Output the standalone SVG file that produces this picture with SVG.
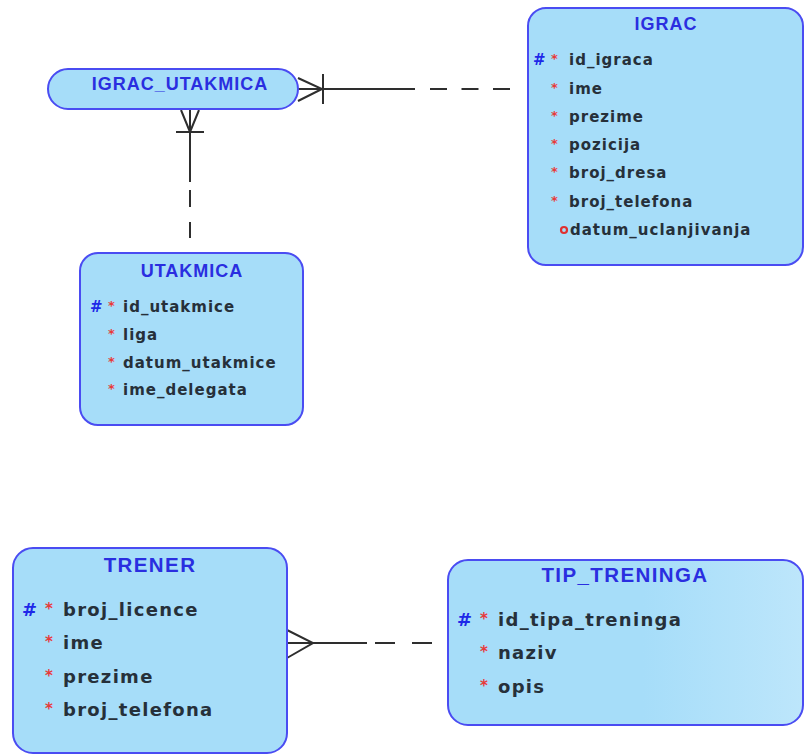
<svg xmlns="http://www.w3.org/2000/svg" width="804" height="755" viewBox="0 0 804 755">
<defs>
<linearGradient id="tipGrad" x1="0" y1="0" x2="1" y2="0">
<stop offset="0.55" stop-color="#a6ddf9"/>
<stop offset="1" stop-color="#bde6fb"/>
</linearGradient>
<style>
.box{fill:#a6ddf9;stroke:#4a4cf2;stroke-width:2}
.title{font-family:"Liberation Sans",Arial,sans-serif;font-weight:bold;fill:#2a2ee0;text-anchor:middle;letter-spacing:1px}
.t1{font-size:18px}
.t2{font-size:20.5px;letter-spacing:1.4px}
.attr{font-family:"DejaVu Sans",Verdana,sans-serif;font-weight:bold;fill:#26303a;letter-spacing:1px}
.a1{font-size:15px}
.a2{font-size:18px;letter-spacing:1.3px}
.pk{font-family:"DejaVu Sans",sans-serif;font-weight:bold;fill:#1e28e8}
.req{font-family:"DejaVu Sans",sans-serif;font-weight:bold;fill:#e83a3a}
.opt{fill:none;stroke:#e03030;stroke-width:2.2}
.ln{stroke:#2e2e2e;stroke-width:2;fill:none}
.dash{stroke:#2e2e2e;stroke-width:2;fill:none}
</style>
</defs>

<g id="connectors">
<!-- IGRAC_UTAKMICA to IGRAC -->
<path class="ln" d="M298,78 L322,89 L298,101 M298,89 L415,89 M323,74 L323,104"/>
<path class="dash" d="M430,89 L512,89" stroke-dasharray="17 14.5"/>
<!-- IGRAC_UTAKMICA to UTAKMICA -->
<path class="ln" d="M181,110 L190,132 L199,110 M190,110 L190,182 M176,132 L204,132"/>
<path class="dash" d="M190,190 L190,238" stroke-dasharray="17 15"/>
<!-- TRENER to TIP_TRENINGA -->
<path class="ln" d="M287,630 L313,643 L287,658 M287,643 L367,643"/>
<path class="dash" d="M375,643 L432,643" stroke-dasharray="20 17"/>
</g>

<g id="igrac_utakmica">
<rect class="box" x="48" y="69" width="250" height="40" rx="20" ry="20"/>
<text class="title t1" x="180" y="90">IGRAC_UTAKMICA</text>
</g>

<g id="igrac">
<rect class="box" x="528" y="8" width="275" height="257" rx="18" ry="18"/>
<text class="title t1" x="666" y="30">IGRAC</text>
<text class="pk a1" x="533" y="65">#</text>
<text class="req" x="551" y="63" font-size="13">*</text>
<text class="attr a1" x="569" y="65">id_igraca</text>
<text class="req" x="551" y="92" font-size="13">*</text>
<text class="attr a1" x="569" y="94">ime</text>
<text class="req" x="551" y="120" font-size="13">*</text>
<text class="attr a1" x="569" y="122">prezime</text>
<text class="req" x="551" y="148" font-size="13">*</text>
<text class="attr a1" x="569" y="150">pozicija</text>
<text class="req" x="551" y="176" font-size="13">*</text>
<text class="attr a1" x="569" y="178">broj_dresa</text>
<text class="req" x="551" y="205" font-size="13">*</text>
<text class="attr a1" x="569" y="207">broj_telefona</text>
<circle class="opt" cx="564" cy="230" r="3"/>
<text class="attr a1" x="570" y="235">datum_uclanjivanja</text>
</g>

<g id="utakmica">
<rect class="box" x="80" y="253" width="223" height="172" rx="18" ry="18"/>
<text class="title t1" x="192" y="277">UTAKMICA</text>
<text class="pk a1" x="90" y="312">#</text>
<text class="req" x="108" y="310" font-size="13">*</text>
<text class="attr a1" x="123" y="312">id_utakmice</text>
<text class="req" x="108" y="338" font-size="13">*</text>
<text class="attr a1" x="123" y="340">liga</text>
<text class="req" x="108" y="366" font-size="13">*</text>
<text class="attr a1" x="123" y="368">datum_utakmice</text>
<text class="req" x="108" y="393" font-size="13">*</text>
<text class="attr a1" x="123" y="395">ime_delegata</text>
</g>

<g id="trener">
<rect class="box" x="13" y="548" width="274" height="205" rx="20" ry="20"/>
<text class="title t2" x="150" y="572">TRENER</text>
<text class="pk a2" x="22" y="616">#</text>
<text class="req" x="45" y="614" font-size="15">*</text>
<text class="attr a2" x="63" y="616">broj_licence</text>
<text class="req" x="45" y="647" font-size="15">*</text>
<text class="attr a2" x="63" y="649">ime</text>
<text class="req" x="45" y="681" font-size="15">*</text>
<text class="attr a2" x="63" y="683">prezime</text>
<text class="req" x="45" y="714" font-size="15">*</text>
<text class="attr a2" x="63" y="716">broj_telefona</text>
</g>

<g id="tip_treninga">
<rect class="box" x="448" y="560" width="355" height="165" rx="20" ry="20" style="fill:url(#tipGrad)"/>
<text class="title t2" x="625" y="582">TIP_TRENINGA</text>
<text class="pk a2" x="457" y="626">#</text>
<text class="req" x="480" y="624" font-size="15">*</text>
<text class="attr a2" x="498" y="626">id_tipa_treninga</text>
<text class="req" x="480" y="657" font-size="15">*</text>
<text class="attr a2" x="498" y="659">naziv</text>
<text class="req" x="480" y="691" font-size="15">*</text>
<text class="attr a2" x="498" y="693">opis</text>
</g>
</svg>
